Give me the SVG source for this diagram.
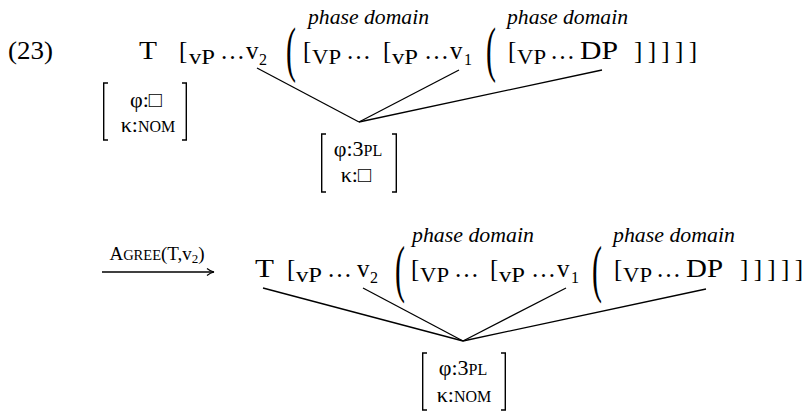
<svg xmlns="http://www.w3.org/2000/svg" width="808" height="413" viewBox="0 0 808 413">
<style>
text{font-family:"Liberation Serif","DejaVu Serif",serif;fill:#000}
.t{font-size:25px}
.s{font-size:20px}
.n{font-size:16px}
.it{font-size:21px;font-style:italic}
.m{font-size:22px}
.sc{font-size:16px}
.p{font-size:26px}
.ln{stroke:#000;stroke-width:1.3;fill:none}
.br{stroke:#000;stroke-width:1.4;fill:none}
</style>
<defs>
<marker id="ah" markerUnits="userSpaceOnUse" markerWidth="12" markerHeight="10" refX="0" refY="0" viewBox="-9 -5 10 10" orient="auto" overflow="visible">
<path d="M-7,-3.5 C-4,-1 -1.5,-0.3 0,0 C-1.5,0.3 -4,1 -7,3.5" stroke="#000" stroke-width="1.2" fill="none"/>
</marker>
</defs>

<g id="connectors">
<line class="ln" x1="257" y1="68" x2="359" y2="122"/>
<line class="ln" x1="459" y1="70" x2="359" y2="122"/>
<line class="ln" x1="602" y1="70" x2="359" y2="122"/>
<line class="ln" x1="263" y1="288" x2="463" y2="341"/>
<line class="ln" x1="363" y1="288" x2="463" y2="341"/>
<line class="ln" x1="566" y1="288" x2="463" y2="341"/>
<line class="ln" x1="706" y1="289" x2="463" y2="341"/>
<line class="ln" x1="102" y1="272" x2="214" y2="272" marker-end="url(#ah)"/>
</g>

<g id="ex-num"><text class="t" x="8" y="59" textLength="45" lengthAdjust="spacingAndGlyphs">(23)</text></g>

<!-- top row -->
<g id="T-top"><text class="t" x="139" y="59" textLength="18" lengthAdjust="spacingAndGlyphs">T</text></g>
<g id="vP-v2-top">
<text class="t" x="179" y="59">[</text>
<text class="s" x="189" y="64" textLength="26" lengthAdjust="spacingAndGlyphs">vP</text>
<text class="t" x="220" y="59">…</text>
<text class="t" x="246" y="59">v</text>
<text class="n" x="259" y="65">2</text>
</g>
<g id="paren1-top"><text class="p" transform="translate(286,70) scale(1.15,2.35)">(</text></g>
<g id="phase1-top">
<text class="it" x="308" y="24" textLength="121" lengthAdjust="spacingAndGlyphs">phase domain</text>
<text class="t" x="303" y="59">[</text>
<text class="s" x="312" y="64" textLength="29" lengthAdjust="spacingAndGlyphs">VP</text>
<text class="t" x="346" y="59">…</text>
<text class="t" x="383" y="59">[</text>
<text class="s" x="392" y="64" textLength="26" lengthAdjust="spacingAndGlyphs">vP</text>
<text class="t" x="424" y="59">…</text>
<text class="t" x="450" y="59">v</text>
<text class="n" x="464" y="65">1</text>
</g>
<g id="paren2-top"><text class="p" transform="translate(486,70) scale(1.15,2.35)">(</text></g>
<g id="phase2-top">
<text class="it" x="507" y="24" textLength="121" lengthAdjust="spacingAndGlyphs">phase domain</text>
<text class="t" x="508" y="59">[</text>
<text class="s" x="517" y="64" textLength="29" lengthAdjust="spacingAndGlyphs">VP</text>
<text class="t" x="550" y="59">…</text>
<text class="t" x="580" y="59" textLength="38" lengthAdjust="spacingAndGlyphs">DP</text>
<text class="t" x="634" y="59" textLength="63" lengthAdjust="spacing">]]]]]</text>
</g>

<g id="matrix-T-top">
<path class="br" d="M108,83 H103.7 V140 H108"/>
<path class="br" d="M182,83 H186.3 V140 H182"/>
<text class="m" x="146" y="107" text-anchor="middle">φ:□</text>
<text class="m" x="148" y="132" text-anchor="middle">κ:<tspan class="sc">NOM</tspan></text>
</g>
<g id="matrix-DP-top">
<path class="br" d="M326,134 H321.7 V192 H326"/>
<path class="br" d="M392,134 H396.3 V192 H392"/>
<text class="m" x="358" y="156" text-anchor="middle">φ:3<tspan class="sc">PL</tspan></text>
<text class="m" x="356" y="182" text-anchor="middle">κ:□</text>
</g>

<!-- arrow label -->
<g id="agree">
<text x="157" y="260" text-anchor="middle" font-size="19">A<tspan font-size="14.5">GREE</tspan>(T,v<tspan font-size="13" dy="3">2</tspan><tspan dy="-3">)</tspan></text>
</g>

<!-- bottom row -->
<g id="T-bot"><text class="t" x="255" y="277" textLength="19" lengthAdjust="spacingAndGlyphs">T</text></g>
<g id="vP-v2-bot">
<text class="t" x="287" y="277">[</text>
<text class="s" x="296" y="282" textLength="26" lengthAdjust="spacingAndGlyphs">vP</text>
<text class="t" x="327" y="277">…</text>
<text class="t" x="357" y="277">v</text>
<text class="n" x="370" y="283">2</text>
</g>
<g id="paren1-bot"><text class="p" transform="translate(395,290) scale(1.15,2.4)">(</text></g>
<g id="phase1-bot">
<text class="it" x="412" y="242" textLength="122" lengthAdjust="spacingAndGlyphs">phase domain</text>
<text class="t" x="411" y="277">[</text>
<text class="s" x="420" y="282" textLength="29" lengthAdjust="spacingAndGlyphs">VP</text>
<text class="t" x="454" y="277">…</text>
<text class="t" x="490" y="277">[</text>
<text class="s" x="499" y="282" textLength="26" lengthAdjust="spacingAndGlyphs">vP</text>
<text class="t" x="531" y="277">…</text>
<text class="t" x="557" y="277">v</text>
<text class="n" x="571" y="283">1</text>
</g>
<g id="paren2-bot"><text class="p" transform="translate(592,290) scale(1.15,2.4)">(</text></g>
<g id="phase2-bot">
<text class="it" x="613" y="242" textLength="122" lengthAdjust="spacingAndGlyphs">phase domain</text>
<text class="t" x="614" y="277">[</text>
<text class="s" x="623" y="282" textLength="29" lengthAdjust="spacingAndGlyphs">VP</text>
<text class="t" x="656" y="277">…</text>
<text class="t" x="686" y="277" textLength="37" lengthAdjust="spacingAndGlyphs">DP</text>
<text class="t" x="740" y="277" textLength="63" lengthAdjust="spacing">]]]]]</text>
</g>
<g id="matrix-bot">
<path class="br" d="M427,353 H422.7 V410 H427"/>
<path class="br" d="M501,353 H505.3 V410 H501"/>
<text class="m" x="463" y="375" text-anchor="middle">φ:3<tspan class="sc">PL</tspan></text>
<text class="m" x="464" y="402" text-anchor="middle">κ:<tspan class="sc">NOM</tspan></text>
</g>
</svg>
